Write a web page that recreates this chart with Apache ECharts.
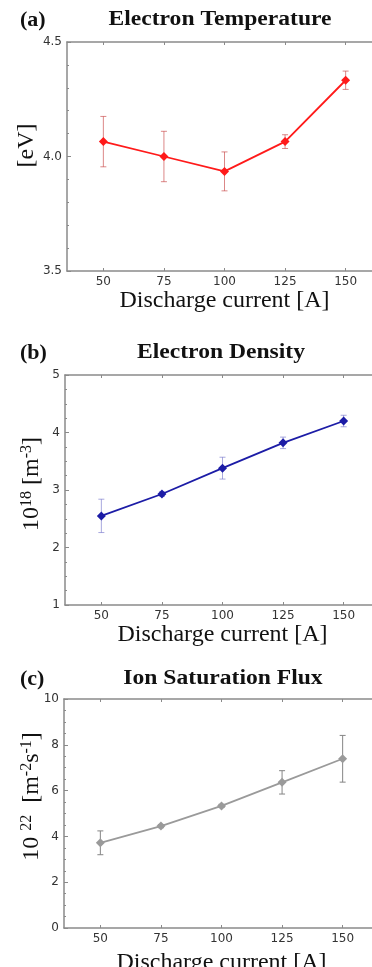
<!DOCTYPE html>
<html>
<head>
<meta charset="utf-8">
<script src="https://cdn.jsdelivr.net/npm/echarts@6/dist/echarts.min.js"></script>
<style>
  html, body { margin: 0; padding: 0; background: #fff; }
  #chart { width: 372px; height: 967px; }
</style>
</head>
<body>
<div id="chart"></div>
<script>
const currents = [50, 75, 100, 125, 150];
const currentTicks = [50, 75, 100, 125, 150];

const tempValues = [4.065, 4.0, 3.935, 4.065, 4.333];
const tempErrors = [0.11, 0.11, 0.085, 0.03, 0.04];

const densityValues = [2.55, 2.93, 3.38, 3.82, 4.2];
const densityErrors = [0.29, 0.04, 0.19, 0.1, 0.1];

const fluxValues = [3.72, 4.45, 5.33, 6.36, 7.39];
const fluxErrors = [0.52, 0.07, 0.07, 0.51, 1.02];

const panelTitles = ["Electron Temperature", "Electron Density", "Ion Saturation Flux"];
const panelLetters = ["(a)", "(b)", "(c)"];

const axisGray = "#8a8a8a";
const serif = "'Liberation Serif', 'Times New Roman', serif";
const sans = "'DejaVu Sans', sans-serif";

const panels = [
  { top: 42, height: 229, left: 67, width: 315, yMin: 3.5, yMax: 4.5, yStep: 0.5, minorSplit: 5,
    values: tempValues, errors: tempErrors, line: "#ff1a1a", err: "rgba(200, 70, 70, 0.65)",
    digits: 1, titleY: 20, name: "[eV]", namePad: 22, nameGap: 28, xNameGap: 18 },
  { top: 375, height: 230, left: 65, width: 315, yMin: 1, yMax: 5, yStep: 1, minorSplit: 4,
    values: densityValues, errors: densityErrors, line: "#1c1ca6", err: "rgba(110, 110, 200, 0.6)",
    digits: 0, titleY: 353, name: "{n|10}{s|18}{n| [m}{s|-3}{n|]}", namePad: 12, nameGap: 20, xNameGap: 18 },
  { top: 699, height: 229, left: 64, width: 315, yMin: 0, yMax: 10, yStep: 2, minorSplit: 4,
    values: fluxValues, errors: fluxErrors, line: "#9a9a9a", err: "#858585",
    digits: 0, titleY: 679, name: "{n|10 }{s|22}{n|  [m}{s|-2}{n|s}{s|-1}{n|]}", namePad: 34, nameGap: 19, xNameGap: 23 }
];
const titleX = [220, 221, 223];

const grids = [];
const xAxes = [];
const yAxes = [];
const series = [];
const graphics = [];

panels.forEach((p, i) => {
  grids.push({ left: p.left, width: p.width, top: p.top, height: p.height, outerBoundsMode: "none" });

  xAxes.push({
    type: "value", gridIndex: i, position: "bottom", min: 35, max: 165,
    name: "Discharge current [A]", nameLocation: "middle", nameGap: p.xNameGap, nameMoveOverlap: false,
    nameTextStyle: { fontFamily: serif, fontSize: 24, color: "#111" },
    axisLine: { show: true, lineStyle: { color: axisGray, width: 1.5 } },
    axisTick: { show: true, inside: true, length: 3, customValues: currentTicks, lineStyle: { color: axisGray } },
    axisLabel: { customValues: currentTicks, fontFamily: sans, fontSize: 12, color: "#333", margin: 5 },
    splitLine: { show: false }
  });
  xAxes.push({
    type: "value", gridIndex: i, position: "top", min: 35, max: 165,
    axisLine: { show: true, lineStyle: { color: axisGray, width: 1.5 } },
    axisTick: { show: true, inside: true, length: 3, customValues: currentTicks, lineStyle: { color: axisGray } },
    axisLabel: { show: false },
    splitLine: { show: false }
  });

  yAxes.push({
    type: "value", gridIndex: i, min: p.yMin, max: p.yMax, interval: p.yStep,
    name: p.name, nameLocation: "middle", nameGap: p.nameGap, nameMoveOverlap: false,
    nameTextStyle: {
      fontFamily: serif, fontSize: 24, color: "#111", padding: [0, 0, 0, p.namePad],
      rich: {
        n: { fontFamily: serif, fontSize: 24, color: "#111" },
        s: { fontFamily: serif, fontSize: 16, color: "#111", verticalAlign: "top", padding: [0, 0, 10, 0] }
      }
    },
    axisLine: { show: true, lineStyle: { color: axisGray, width: 1.5 } },
    axisTick: { show: true, inside: true, length: 4, lineStyle: { color: axisGray } },
    minorTick: { show: true, splitNumber: p.minorSplit, length: 2, lineStyle: { color: axisGray } },
    axisLabel: {
      fontFamily: sans, fontSize: 12, color: "#333", margin: 5,
      formatter: (v) => v.toFixed(p.digits)
    },
    splitLine: { show: false }
  });

  const errColor = p.err;
  series.push({
    type: "custom", xAxisIndex: i * 2, yAxisIndex: i, z: 1, silent: true,
    data: currents.map((c, k) => [c, p.values[k] - p.errors[k], p.values[k] + p.errors[k]]),
    encode: { x: 0, y: [1, 2] },
    renderItem: (params, api) => {
      const hi = api.coord([api.value(0), api.value(2)]);
      const lo = api.coord([api.value(0), api.value(1)]);
      const w = 3;
      const st = { stroke: errColor, lineWidth: 1 };
      return {
        type: "group",
        children: [
          { type: "line", shape: { x1: hi[0], y1: hi[1], x2: lo[0], y2: lo[1] }, style: st },
          { type: "line", shape: { x1: hi[0] - w, y1: hi[1], x2: hi[0] + w, y2: hi[1] }, style: st },
          { type: "line", shape: { x1: lo[0] - w, y1: lo[1], x2: lo[0] + w, y2: lo[1] }, style: st }
        ]
      };
    }
  });
  series.push({
    type: "line", xAxisIndex: i * 2, yAxisIndex: i, z: 3,
    data: currents.map((c, k) => [c, p.values[k]]),
    symbol: "diamond", symbolSize: 9,
    lineStyle: { color: p.line, width: 1.8 },
    itemStyle: { color: p.line },
    animation: false
  });

  graphics.push({
    type: "text", x: titleX[i], y: p.titleY, scaleX: 1.18,
    style: { text: panelTitles[i], font: "bold 20px " + serif, fill: "#111", align: "center", verticalAlign: "middle" }
  });
  graphics.push({
    type: "text", x: 20, y: p.titleY,
    style: { text: panelLetters[i], font: "bold 22px " + serif, fill: "#111", align: "left", verticalAlign: "middle" }
  });
});

const chart = echarts.init(document.getElementById("chart"));
chart.setOption({
  animation: false,
  backgroundColor: "#fff",
  grid: grids,
  xAxis: xAxes,
  yAxis: yAxes,
  series: series,
  graphic: graphics
});
</script>
</body>
</html>
